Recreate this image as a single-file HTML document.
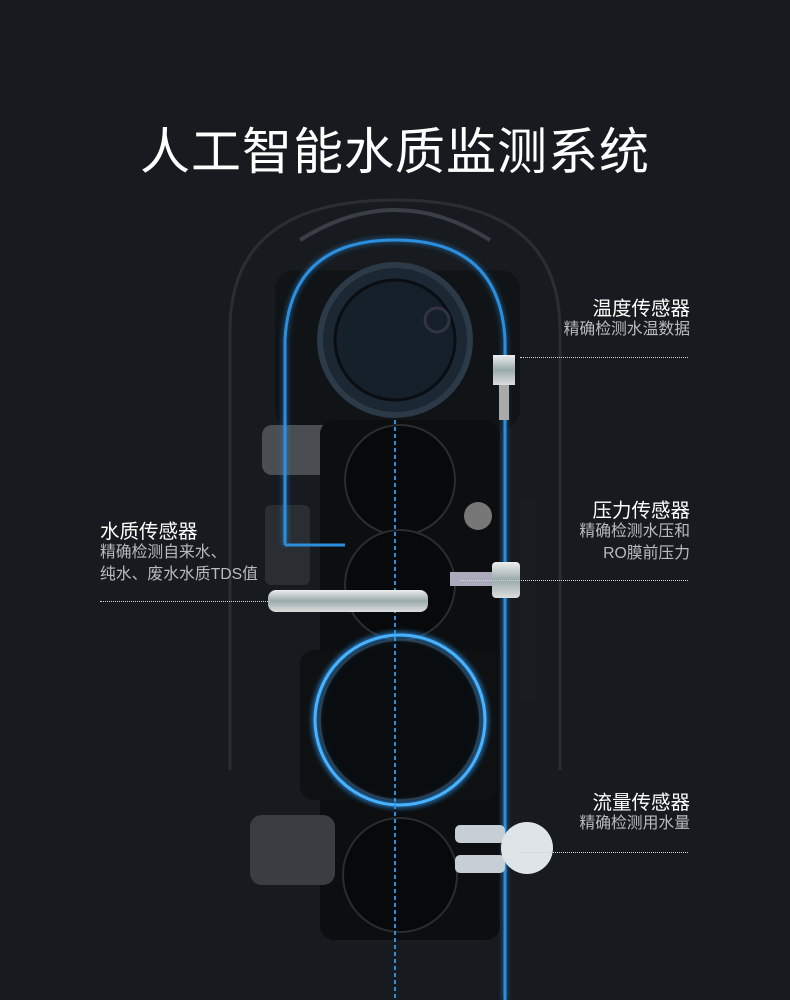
<!DOCTYPE html>
<html><head><meta charset="utf-8"><style>
html,body{margin:0;padding:0;background:#171a1e;}
body{width:790px;height:1000px;position:relative;overflow:hidden;font-family:"Liberation Sans","Noto Sans CJK SC",sans-serif;}
.t{position:absolute;color:#fff;white-space:nowrap;font-size:19.5px;}
.s{position:absolute;color:#b8bcc0;font-size:15.8px;white-space:nowrap;line-height:22px;}
.r{text-align:right;width:200px;}
.d{position:absolute;border-top:1px dotted #cfd3d6;height:0;}
</style></head><body>
<svg width="790" height="1000" style="position:absolute;left:0;top:0">
<defs>
<filter id="g"><feGaussianBlur stdDeviation="3"/></filter>
<linearGradient id="pg" x1="0" y1="0" x2="0" y2="1"><stop offset="0" stop-color="#eee"/><stop offset="0.5" stop-color="#9aa"/><stop offset="1" stop-color="#ddd"/></linearGradient>
</defs>
<path d="M230 770 L230 330 Q230 200 395 200 Q560 200 560 330 L560 770" fill="none" stroke="#2a2e33" stroke-width="3"/>
<path d="M300 240 Q395 180 490 240" fill="none" stroke="#3a3f45" stroke-width="4"/>
<rect x="275" y="270" width="245" height="160" rx="20" fill="#111417"/>
<rect x="262" y="425" width="80" height="50" rx="10" fill="#4a4d51"/>
<rect x="265" y="505" width="45" height="80" rx="6" fill="#2a2d31"/>
<rect x="320" y="420" width="180" height="520" rx="14" fill="#0c0e10"/>
<rect x="300" y="650" width="200" height="150" rx="14" fill="#0e1012"/>
<rect x="250" y="815" width="85" height="70" rx="12" fill="#3a3d41"/>
<circle cx="395" cy="340" r="75" fill="#1b2833" stroke="#2b3a46" stroke-width="6"/>
<circle cx="395" cy="340" r="60" fill="#15202a" stroke="#0a0e12" stroke-width="3"/>
<circle cx="437" cy="320" r="12" fill="none" stroke="#334" stroke-width="3"/>
<circle cx="400" cy="480" r="55" fill="#08090a" stroke="#2a2d30" stroke-width="2"/>
<circle cx="400" cy="585" r="55" fill="#08090a" stroke="#2a2d30" stroke-width="2"/>
<circle cx="400" cy="720" r="80" fill="#0a0d10" stroke="#2a2d30" stroke-width="2"/>
<circle cx="400" cy="875" r="57" fill="#08090a" stroke="#2a2d30" stroke-width="2"/>
<circle cx="478" cy="516" r="14" fill="#777"/>
<g stroke="#2b8fe0" fill="none" stroke-width="3">
<path d="M285 545 L285 340 Q290 240 395 240 Q500 240 505 340 L505 1000" filter="url(#g)" opacity="0.8"/>
<path d="M285 545 L285 340 Q290 240 395 240 Q500 240 505 340 L505 1000"/>
<path d="M285 545 L345 545"/>
<circle cx="400" cy="720" r="85" stroke-width="5" filter="url(#g)"/>
<circle cx="400" cy="720" r="85" stroke="#49b2ff"/>
<path d="M395 420 L395 1000" stroke-dasharray="4 3" stroke-width="2"/>
</g>
<rect x="493" y="355" width="22" height="30" fill="url(#pg)"/>
<rect x="499" y="385" width="10" height="35" fill="#aaa"/>
<rect x="268" y="590" width="160" height="22" rx="8" fill="url(#pg)"/>
<rect x="450" y="572" width="45" height="14" fill="#aab"/>
<rect x="492" y="562" width="28" height="36" rx="4" fill="url(#pg)"/>
<rect x="520" y="500" width="15" height="200" fill="#1a1c1f"/>
<rect x="455" y="825" width="50" height="18" rx="5" fill="#c7cfd6"/>
<rect x="455" y="855" width="50" height="18" rx="5" fill="#c7cfd6"/>
<circle cx="527" cy="848" r="26" fill="#dfe4e8"/>
</svg>
<div class="t" style="left:0;width:790px;text-align:center;top:112px;font-size:50px;letter-spacing:1px">人工智能水质监测系统</div>
<div class="t r" style="left:490px;top:292px">温度传感器</div>
<div class="s r" style="left:490px;top:319px">精确检测水温数据</div>
<div class="d" style="left:520px;top:357px;width:168px"></div>
<div class="t r" style="left:490px;top:494px">压力传感器</div>
<div class="s r" style="left:490px;top:521px">精确检测水压和<br>RO膜前压力</div>
<div class="d" style="left:460px;top:580px;width:228px"></div>
<div class="t" style="left:100px;top:515px">水质传感器</div>
<div class="s" style="left:100px;top:542px">精确检测自来水、<br>纯水、废水水质TDS值</div>
<div class="d" style="left:100px;top:601px;width:170px"></div>
<div class="t r" style="left:490px;top:786px">流量传感器</div>
<div class="s r" style="left:490px;top:813px">精确检测用水量</div>
<div class="d" style="left:520px;top:852px;width:168px"></div>
</body></html>
